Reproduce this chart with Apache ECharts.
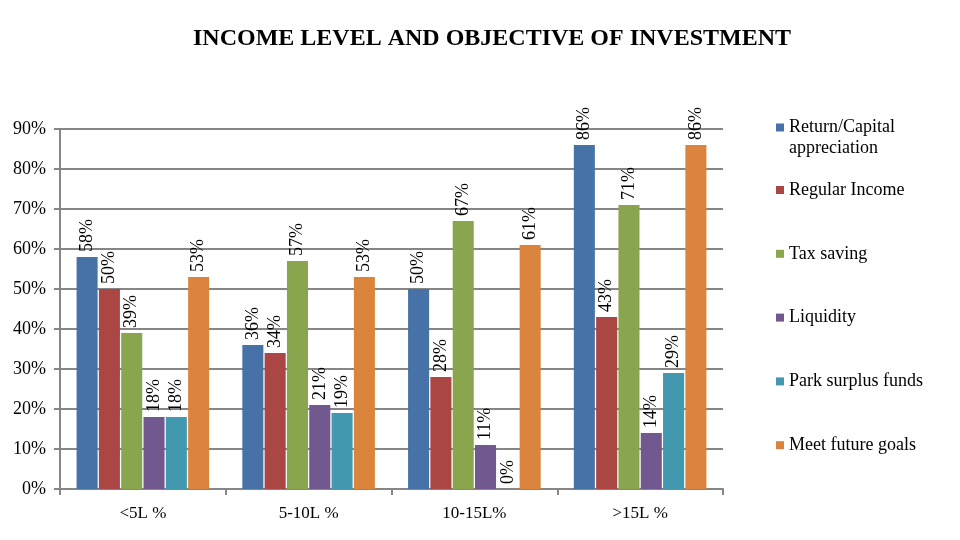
<!DOCTYPE html>
<html>
<head>
<meta charset="utf-8">
<script src="https://cdn.jsdelivr.net/npm/echarts@6/dist/echarts.min.js"></script>
<style>html,body{margin:0;padding:0;background:#fff;}#c{width:960px;height:540px;}</style>
</head>
<body>
<div id="c"></div>
<script>
const categories = ['<5L %', '5-10L %', '10-15L%', '>15L %'];
const seriesNames = ['Return/Capital appreciation', 'Regular Income', 'Tax saving', 'Liquidity', 'Park surplus funds', 'Meet future goals'];
const returnCapital = [58, 36, 50, 86];
const regularIncome = [50, 34, 28, 43];
const taxSaving = [39, 57, 67, 71];
const liquidity = [18, 21, 11, 14];
const parkSurplus = [18, 19, 0, 29];
const futureGoals = [53, 53, 61, 86];
const yTicks = { min: 0, max: 90, interval: 10 };

const seriesData = [returnCapital, regularIncome, taxSaving, liquidity, parkSurplus, futureGoals];
const colors = ['#4672A8', '#AA4643', '#89A54E', '#71588F', '#4198AF', '#DB843D'];
const FONT = "'Liberation Serif', 'Times New Roman', serif";

const chart = echarts.init(document.getElementById('c'));
chart.setOption({
  animation: false,
  color: colors,
  title: {
    text: 'INCOME LEVEL AND OBJECTIVE OF INVESTMENT',
    left: 487, top: 22, textAlign: 'center',
    textStyle: { fontFamily: FONT, fontSize: 24, fontWeight: 'bold', color: '#000' }
  },
  legend: [
    {
      data: [seriesNames[0]], orient: 'vertical', left: 776, top: 96, padding: 0,
      icon: 'rect', itemWidth: 8, itemHeight: 8,
      formatter: () => '\nReturn/Capital\nappreciation',
      textStyle: { fontFamily: FONT, fontSize: 18, color: '#000', lineHeight: 21 }
    },
    {
      data: seriesNames.slice(1), orient: 'vertical', left: 776, top: 180, padding: 0,
      icon: 'rect', itemWidth: 8, itemHeight: 8, itemGap: 43.8,
      textStyle: { fontFamily: FONT, fontSize: 18, color: '#000', lineHeight: 20 }
    }
  ],
  grid: { left: 60, right: 237, top: 129, bottom: 51 },
  xAxis: {
    type: 'category', data: categories,
    axisLine: { lineStyle: { color: '#868686', width: 2 } },
    axisTick: { show: true, length: 6, lineStyle: { color: '#868686', width: 2 } },
    axisLabel: { fontFamily: FONT, fontSize: 17, color: '#000', margin: 16 }
  },
  yAxis: {
    type: 'value', min: yTicks.min, max: yTicks.max, interval: yTicks.interval,
    axisLine: { show: true, lineStyle: { color: '#868686', width: 2 } },
    axisTick: { show: true, length: 6, lineStyle: { color: '#868686', width: 2 } },
    splitLine: { lineStyle: { color: '#868686', width: 2 } },
    axisLabel: { fontFamily: FONT, fontSize: 18, color: '#000', margin: 14, formatter: '{value}%' }
  },
  series: seriesNames.map((name, i) => ({
    name, type: 'bar', data: seriesData[i],
    barCategoryGap: '20%', barGap: '6%',
    label: {
      show: true, position: 'top', rotate: 90, align: 'left', verticalAlign: 'middle',
      distance: 5, formatter: '{c}%', fontFamily: FONT, fontSize: 18, color: '#000'
    }
  }))
});
</script>
</body>
</html>
